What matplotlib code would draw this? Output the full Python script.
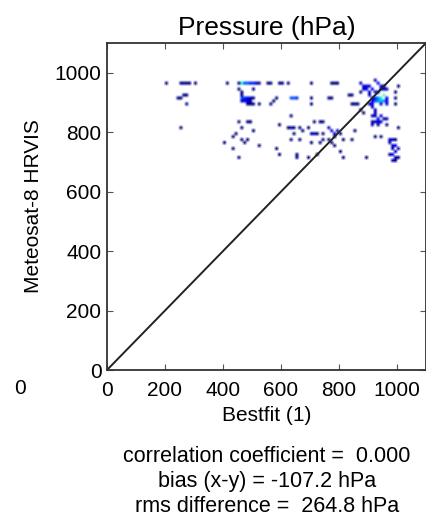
import numpy as np
import matplotlib
matplotlib.use('Agg')
import matplotlib.pyplot as plt
from matplotlib.colors import Normalize

plt.rcParams['font.family'] = ['Liberation Sans', 'DejaVu Sans']

# Binned collocations: Bestfit (x) vs Meteosat-8 HRVIS (y) pressure, hPa, count per 10 hPa cell
x_vals = [200, 250, 260, 270, 280, 300, 410, 450, 460, 470, 480, 490, 500, 510, 520,
          550, 560, 590, 600, 625, 700, 770, 780, 790,
          455, 500, 460, 460, 240, 250, 260, 270, 270,
          460, 470, 480, 490, 460, 470, 480, 490, 500, 480, 490,
          580, 570, 560, 630, 640, 650, 700, 760, 770,
          270, 500, 520, 700, 860, 630,
          450, 480, 490, 710, 250, 590, 620, 630, 640, 460, 635, 665, 675, 690, 775,
          440, 640, 700, 710, 720, 740, 500, 430, 460, 480, 630, 660, 740, 765,
          400, 470, 705, 730, 435, 580, 520, 590, 655, 720, 455, 650, 690, 810, 896,
          730, 740, 765, 775, 785, 790, 800, 770, 780, 805, 850, 810, 840, 780,
          870, 880, 890, 900, 920, 930, 940, 950, 960, 880, 890, 900, 910, 920, 930, 940, 950,
          830, 840, 870, 840, 850, 1000,
          900, 910, 920, 930, 940, 950, 960, 910, 920, 930, 940, 950, 960, 900, 910, 940, 960,
          910, 920, 920, 870, 880, 990, 990, 990,
          910, 920, 930, 940, 950, 960, 910, 920, 930, 940, 910, 930, 960, 1000,
          920, 940, 970, 980, 990, 970, 980, 990, 1000, 980, 990, 970, 980, 990, 1000, 980, 990]
y_vals = [960, 960, 960, 960, 960, 960, 960, 960, 960, 960, 960, 960, 960, 960, 960,
          960, 960, 960, 960, 960, 960, 960, 960, 960,
          940, 940, 935, 925, 915, 918, 925, 928, 898,
          918, 918, 910, 905, 905, 900, 900, 910, 915, 890, 890,
          918, 908, 898, 918, 918, 918, 918, 918, 910,
          897, 890, 890, 890, 890, 858,
          835, 835, 835, 835, 818, 825, 818, 818, 818, 810, 810, 810, 805, 818, 808,
          790, 790, 790, 790, 790, 790, 806, 783, 776, 776, 776, 776, 776, 776,
          767, 767, 767, 767, 748, 748, 750, 728, 728, 728, 710, 710, 710, 710, 710,
          830, 830, 812, 800, 790, 800, 790, 768, 750, 734, 800, 779, 779, 780,
          960, 955, 950, 950, 970, 960, 955, 950, 945, 945, 940, 935, 940, 930, 935, 940, 945,
          925, 925, 930, 897, 897, 952,
          920, 915, 915, 910, 915, 920, 910, 905, 900, 900, 900, 905, 900, 890, 890, 890, 890,
          880, 870, 860, 875, 860, 930, 910, 890,
          850, 850, 845, 850, 840, 845, 835, 830, 830, 830, 820, 820, 820, 812,
          780, 780, 770, 770, 770, 760, 750, 750, 745, 740, 730, 720, 720, 715, 710, 705, 700]
counts = [1, 1, 1, 1, 1, 1, 1, 1, 8, 5, 5, 4, 4, 2, 1,
          1, 1, 1, 1, 1, 1, 1, 1, 1,
          1, 1, 1, 1, 1, 1, 1, 1, 1,
          5, 4, 3, 2, 2, 3, 2, 2, 1, 1, 1,
          1, 1, 1, 5, 5, 4, 1, 1, 1,
          1, 1, 1, 1, 1, 1,
          1, 1, 1, 1, 1, 1, 1, 1, 1, 1, 1, 1, 1, 1, 1,
          1, 1, 2, 2, 1, 1, 1, 1, 1, 1, 1, 1, 1, 1,
          1, 1, 1, 1, 1, 1, 1, 1, 1, 1, 1, 1, 1, 1, 1,
          1, 1, 2, 2, 2, 2, 1, 1, 1, 1, 1, 1, 1, 1,
          2, 2, 3, 3, 2, 3, 3, 2, 2, 2, 3, 2, 3, 2, 3, 3, 2,
          1, 1, 1, 1, 1, 1,
          2, 3, 4, 6, 8, 10, 3, 3, 5, 6, 7, 6, 3, 2, 3, 2, 2,
          2, 2, 2, 1, 1, 1, 1, 1,
          2, 2, 3, 2, 2, 2, 2, 2, 3, 2, 2, 1, 1, 1,
          1, 1, 2, 2, 1, 2, 2, 3, 2, 2, 2, 2, 3, 2, 1, 2, 1]

edges = np.arange(0, 1110, 10)
H, _, _ = np.histogram2d(x_vals, y_vals, bins=[edges, edges], weights=counts)
H = H.T

norm = Normalize(vmin=1, vmax=20)
rgba = plt.cm.jet(norm(H))
rgba[H == 0] = [1, 1, 1, 1]

fig = plt.figure(figsize=(4.27, 5.18), dpi=100)
ax = fig.add_axes([107 / 427, 1 - 370 / 518, 319 / 427, 327 / 518])
ax.imshow(rgba, origin='lower', extent=[0, 1100, 0, 1100], aspect='auto',
          interpolation='bilinear')
ax.plot([0, 1100], [0, 1100], color='#222222', lw=1.4)
ax.set_xlim(0, 1100)
ax.set_ylim(0, 1100)
ax.set_xticks([0, 200, 400, 600, 800, 1000])
ax.set_yticks([0, 200, 400, 600, 800, 1000])
ax.tick_params(direction='in', top=True, right=True, labelsize=15, length=4,
               color='#555555')
ax.tick_params(axis='x', pad=8)
ax.tick_params(axis='y', pad=4)
for s in ax.spines.values():
    s.set_linewidth(1.3)
    s.set_color('#333333')

ax.set_title('Pressure (hPa)', fontsize=19, pad=6)
ax.set_xlabel('Bestfit (1)', fontsize=15, labelpad=4)
ax.set_ylabel('Meteosat-8 HRVIS', fontsize=15, labelpad=8)

fig.text(20 / 427, 1 - 389 / 518, '0', fontsize=15, ha='center', va='center')
stats = ['correlation coefficient =  0.000',
         'bias (x-y) = -107.2 hPa',
         'rms difference =  264.8 hPa']
for i, line in enumerate(stats):
    fig.text(267 / 427, 1 - (457 + 25 * i) / 518, line, fontsize=15.5,
             ha='center', va='center')

fig.savefig('out.png', dpi=100)
